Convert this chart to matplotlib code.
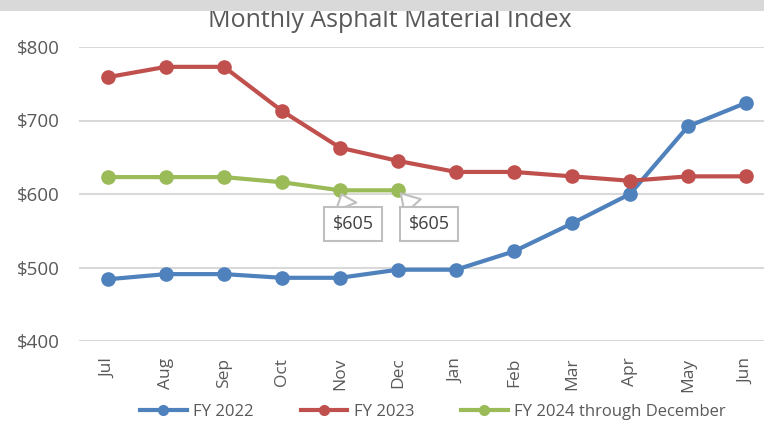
import matplotlib.pyplot as plt
from matplotlib.patches import Rectangle

plt.rcParams['font.family'] = ['Open Sans', 'DejaVu Sans']

months = ['Jul', 'Aug', 'Sep', 'Oct', 'Nov', 'Dec', 'Jan', 'Feb', 'Mar', 'Apr', 'May', 'Jun']
fy2022 = [484, 491, 491, 486, 486, 497, 497, 522, 560, 600, 692, 724]
fy2023 = [759, 773, 773, 713, 663, 645, 630, 630, 624, 618, 624, 624]
fy2024 = [623, 623, 623, 616, 605, 605]

colors = {'FY 2022': '#4f81bd', 'FY 2023': '#c0504d', 'FY 2024 through December': '#9bbb59'}
text_color = '#595959'

fig = plt.figure(figsize=(7.64, 4.25), dpi=100)
# axes left edge at px 79, right edge cut off by the image border
ax = fig.add_axes([79 / 764, 1 - 341 / 425, 1 - 79 / 764, (341 - 47) / 425])

x = list(range(len(months)))
for name, vals in [('FY 2022', fy2022), ('FY 2023', fy2023), ('FY 2024 through December', fy2024)]:
    ax.plot(x[:len(vals)], vals, color=colors[name], lw=3, marker='o', ms=9.5,
            label=name, clip_on=False, zorder=3)

# data callouts on the last two green points
for i, dx in [(4, 13), (5, 31)]:
    ax.annotate(f'${fy2024[i]}', xy=(i, fy2024[i]), xytext=(dx, -34), textcoords='offset pixels',
                ha='center', va='center', fontsize=13, color='#404040',
                bbox=dict(boxstyle='square,pad=0.45', fc='white', ec='#bfbfbf', lw=1.5),
                arrowprops=dict(arrowstyle='wedge,tail_width=1.2,shrink_factor=0.5', fc='white',
                                ec='#bfbfbf', lw=1.5, shrinkA=0, shrinkB=3),
                zorder=5)

ax.set_ylim(400, 800)
ax.set_xlim(-0.5, 11.31)
ax.set_yticks([400, 500, 600, 700, 800])
ax.set_yticklabels([f'${v}' for v in [400, 500, 600, 700, 800]])
ax.set_xticks(x)
ax.set_xticklabels(months, rotation=90)
ax.grid(axis='y', color='#d9d9d9', lw=1.5)
ax.set_axisbelow(True)
for s in ax.spines.values():
    s.set_visible(False)
ax.tick_params(axis='y', length=0, labelsize=13.5, labelcolor=text_color, pad=14)
ax.tick_params(axis='x', length=0, labelsize=12.5, labelcolor=text_color, pad=12)

leg = fig.legend(loc='center', bbox_to_anchor=(433 / 764, 1 - 412 / 425), ncol=3, frameon=False,
                 fontsize=12, handlelength=2.8, columnspacing=2.8, handletextpad=0.4,
                 borderpad=0, borderaxespad=0)
for t in leg.get_texts():
    t.set_color(text_color)
for h in leg.legend_handles:
    h.set_markersize(7)

# title partly hidden under the grey band at the top
fig.text(390 / 764, 1 - 27 / 425, 'Monthly Asphalt Material Index', ha='center', va='baseline',
         fontsize=18, color=text_color)
fig.patches.append(Rectangle((0, 1 - 11 / 425), 1, 11 / 425, transform=fig.transFigure,
                             fc='#d9d9d9', ec='none', zorder=10))

fig.savefig('out.png', dpi=100)
